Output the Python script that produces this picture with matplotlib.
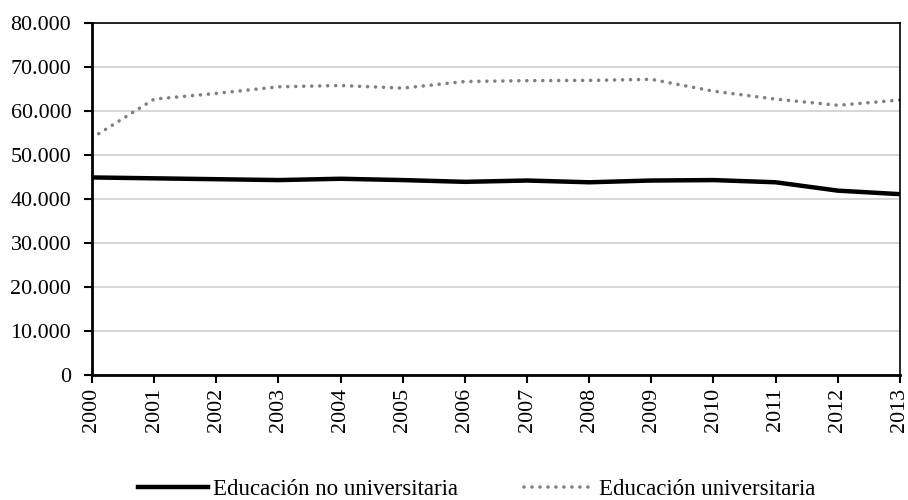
import matplotlib
matplotlib.use("Agg")
import matplotlib.pyplot as plt
from matplotlib.ticker import FuncFormatter

years = list(range(2000, 2014))
no_univ = [44900, 44700, 44500, 44300, 44600, 44300, 43900, 44200, 43800, 44200, 44300, 43800, 41900, 41100]
univ = [53900, 62700, 64000, 65500, 65800, 65200, 66700, 66900, 66950, 67200, 64500, 62700, 61300, 62500]
labels = ["Educación no universitaria", "Educación universitaria"]

plt.rcParams['font.family'] = ['Liberation Serif', 'DejaVu Serif']

fig = plt.figure(figsize=(9.08, 5), dpi=100)
ax = fig.add_axes([0.1013, 0.25, 0.8898, 0.704])

ax.plot(years, no_univ, color='black', lw=3.2, label=labels[0], solid_joinstyle='round')
ax.plot(years, univ, color='#808080', lw=2.6, linestyle=(0, (0.01, 2.2)),
        dash_capstyle='round', label=labels[1])

ax.set_xlim(2000, 2013)
ax.set_ylim(0, 80000)
ax.set_yticks(range(0, 80001, 10000))
ax.yaxis.set_major_formatter(FuncFormatter(lambda v, p: "0" if v == 0 else "{:,.3f}".format(v / 1000).replace(",", "")))
ax.set_xticks(years)
ax.set_xticklabels([str(y) for y in years], rotation=90)
ax.grid(axis='y', color='#d0d0d0', lw=1.2)
ax.set_axisbelow(True)

for s in ['top', 'right']:
    ax.spines[s].set_linewidth(1.2)
for s in ['left', 'bottom']:
    ax.spines[s].set_linewidth(2)
ax.tick_params(axis='both', direction='out', length=6, width=1.5, labelsize=15.8, colors='black')
ax.tick_params(axis='y', pad=9)
ax.tick_params(axis='x', pad=3.5)

fig.legend(loc='center', bbox_to_anchor=(0.525, 0.022), ncol=2, frameon=False,
           fontsize=16.5, handlelength=3.05, handletextpad=0.2, columnspacing=2.9)

fig.savefig("out.png", dpi=100)
